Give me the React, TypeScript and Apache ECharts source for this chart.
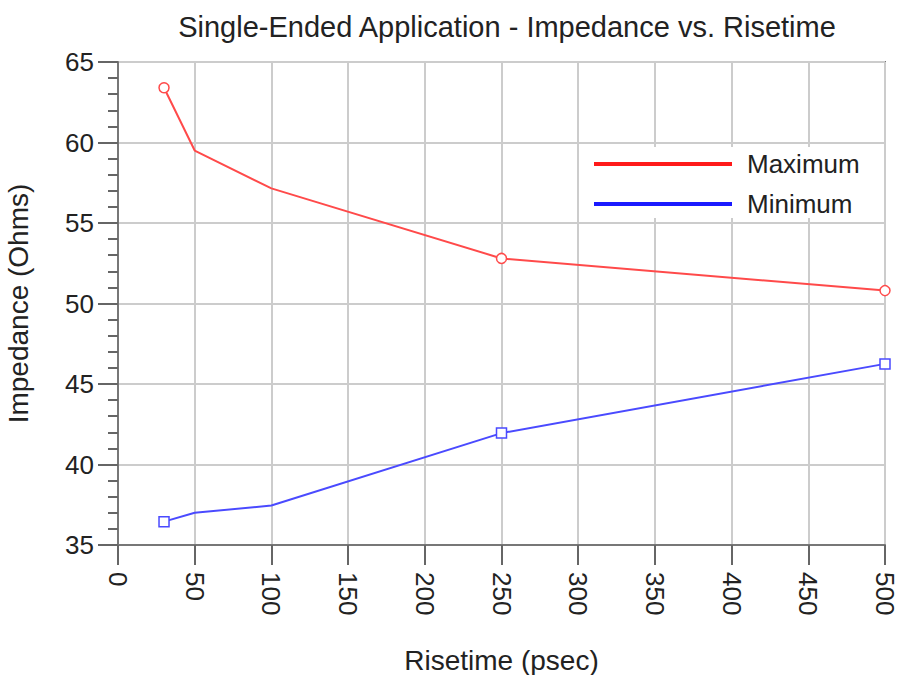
import React, { useEffect, useRef } from "react";
import * as echarts from "echarts";

const risetime = [30, 50, 100, 250, 500];
const maximum = [63.4, 59.5, 57.15, 52.8, 50.8];
const minimum = [36.45, 37.0, 37.45, 41.95, 46.25];
const markerShown = [true, false, false, true, true];
const xTicks = { min: 0, max: 500, interval: 50 };
const yTicks = { min: 35, max: 65, interval: 5 };

const FONT = "'Liberation Sans', Arial, sans-serif";

function buildData(values: number[], symbol: string) {
  return risetime.map((x, i) => ({
    value: [x, values[i]],
    symbol: markerShown[i] ? symbol : "none",
  }));
}

export default function App() {
  const ref = useRef<HTMLDivElement>(null);
  useEffect(() => {
    if (!ref.current) return;
    const chart = echarts.init(ref.current, undefined, { renderer: "svg" });
    chart.setOption({
      animation: false,
      backgroundColor: "#ffffff",
      title: {
        text: "Single-Ended Application - Impedance vs. Risetime",
        left: 502,
        textAlign: "center",
        top: 7,
        textStyle: { fontFamily: FONT, fontSize: 29, fontWeight: "normal", color: "#222" },
      },
      legend: {
        orient: "vertical",
        left: 584,
        top: 147,
        backgroundColor: "#ffffff",
        padding: [4, 12, 1, 10],
        itemWidth: 138,
        itemHeight: 4,
        itemGap: 14,
        icon: "rect",
        itemStyle: { borderWidth: 0 },
        textStyle: { fontFamily: FONT, fontSize: 26, color: "#222", padding: [0, 0, 0, 10] },
        data: [
          { name: "Maximum", itemStyle: { color: "#ff1a1a", borderWidth: 0 } },
          { name: "Minimum", itemStyle: { color: "#1a1aff", borderWidth: 0 } },
        ],
      },
      grid: {
        left: 118,
        right: 18,
        top: 62,
        bottom: 130,
        containLabel: false,
        outerBoundsMode: "none",
        show: true,
        borderColor: "#777",
        borderWidth: 2,
        backgroundColor: "transparent",
      },
      xAxis: {
        type: "value",
        min: xTicks.min,
        max: xTicks.max,
        interval: xTicks.interval,
        name: "Risetime (psec)",
        nameLocation: "middle",
        nameGap: 101,
        nameTextStyle: { fontFamily: FONT, fontSize: 28, color: "#222" },
        axisLine: { show: true, lineStyle: { color: "#777", width: 2 } },
        axisTick: { show: true, length: 20, inside: false, lineStyle: { color: "#666", width: 2 } },
        axisLabel: { rotate: -90, margin: 27, fontFamily: FONT, fontSize: 26, color: "#222" },
        splitLine: { show: true, lineStyle: { color: "#cccccc", width: 2 } },
      },
      yAxis: {
        type: "value",
        min: yTicks.min,
        max: yTicks.max,
        interval: yTicks.interval,
        name: "Impedance (Ohms)",
        nameLocation: "middle",
        nameGap: 86,
        nameTextStyle: { fontFamily: FONT, fontSize: 28, color: "#222" },
        axisLine: { show: true, lineStyle: { color: "#777", width: 2 } },
        axisTick: { show: true, length: 20, inside: false, lineStyle: { color: "#666", width: 2 } },
        minorTick: { show: true, splitNumber: 5, length: 10, lineStyle: { color: "#666", width: 2 } },
        axisLabel: { margin: 24, fontFamily: FONT, fontSize: 26, color: "#222" },
        splitLine: { show: true, lineStyle: { color: "#cccccc", width: 2 } },
      },
      series: [
        {
          name: "Maximum",
          type: "line",
          data: buildData(maximum, "circle"),
          symbolSize: 10,
          lineStyle: { color: "#ff4a4a", width: 2 },
          itemStyle: { color: "#ffffff", borderColor: "#ff4a4a", borderWidth: 1.5 },
          z: 3,
        },
        {
          name: "Minimum",
          type: "line",
          data: buildData(minimum, "rect"),
          symbolSize: 10,
          lineStyle: { color: "#4a4aff", width: 2 },
          itemStyle: { color: "#ffffff", borderColor: "#4a4aff", borderWidth: 1.5 },
          z: 3,
        },
      ],
    });
    return () => chart.dispose();
  }, []);
  return <div ref={ref} style={{ width: 903, height: 675, position: "absolute", left: 0, top: 0 }} />;
}
